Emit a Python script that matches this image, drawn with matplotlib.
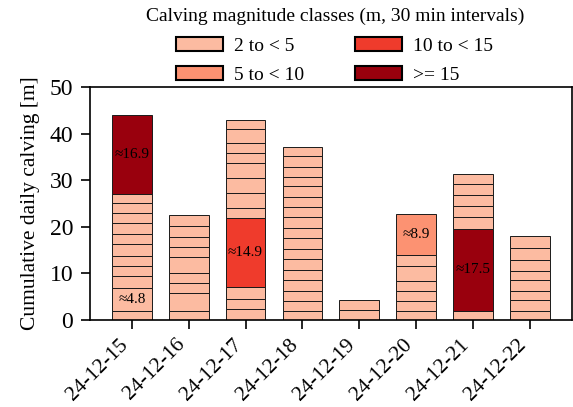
import numpy as np
import matplotlib.pyplot as plt
from matplotlib.patches import Patch

plt.rcParams['font.family'] = ['Liberation Serif', 'DejaVu Serif']

days = ['24-12-15', '24-12-16', '24-12-17', '24-12-18',
        '24-12-19', '24-12-20', '24-12-21', '24-12-22']

# calving events per day (m, per 30 min interval), bottom to top
ev_15 = [2.0, 4.8, 2.7, 2.0, 2.3, 2.4, 2.3, 2.4, 2.1, 2.1, 2.0, 16.9]
ev_16 = [2.0, 3.7, 2.2, 2.2, 3.4, 2.2, 2.0, 2.5, 2.4]
ev_17 = [2.3, 2.2, 2.5, 14.9, 2.2, 3.2, 3.2, 3.2, 2.2, 2.1, 2.9, 2.1]
ev_18 = [2.0, 2.1, 2.0, 2.5, 2.2, 2.2, 2.3, 2.3, 2.2, 2.2, 2.3, 2.2,
         2.2, 2.0, 2.2, 2.2, 2.0]
ev_19 = [2.1, 2.2]
ev_20 = [2.0, 2.0, 2.2, 2.2, 3.2, 2.3, 8.9]
ev_21 = [2.0, 17.5, 2.7, 2.3, 2.4, 2.3, 2.2]
ev_22 = [2.0, 2.2, 2.1, 2.2, 2.0, 2.3, 2.6, 2.6]
events = [ev_15, ev_16, ev_17, ev_18, ev_19, ev_20, ev_21, ev_22]

class_edges = [2, 5, 10, 15]
class_labels = ['2 to < 5', '5 to < 10', '10 to < 15', '>= 15']
class_colors = ['#fcbba1', '#fc9272', '#ef3b2c', '#99000d']


def class_of(v):
    return np.searchsorted(class_edges, v, side='right') - 1


fig = plt.figure(figsize=(5.73, 4.07), dpi=100)
ax = fig.add_axes([0.157, 0.214, 0.841, 0.572])

x = np.arange(len(days))
width = 0.7
for i, ev in enumerate(events):
    bottom = 0.0
    for v in ev:
        c = class_colors[class_of(v)]
        ax.bar(x[i], v, width, bottom=bottom, color=c,
               edgecolor='#1a1a1a', linewidth=0.7)
        if v >= 4.5:
            ax.text(x[i], bottom + v / 2, '≈%.1f' % v, ha='center',
                    va='center', fontsize=11)
        bottom += v

ax.set_ylim(0, 50)
ax.set_yticks([0, 10, 20, 30, 40, 50])
ax.set_xticks(x)
ax.set_xticklabels(days, rotation=45, ha='right')
ax.tick_params(length=6.5, width=1.2, pad=5.5)
ax.tick_params(axis='y', labelsize=17)
ax.tick_params(axis='x', labelsize=15.5, pad=4.5)
for s in ax.spines.values():
    s.set_linewidth(1.2)
ax.set_ylabel('Cumulative daily calving [m]', fontsize=15.5, labelpad=7)

handles = [Patch(facecolor=c, edgecolor='black', linewidth=1.5)
           for c in class_colors]
ax.legend(handles, class_labels, ncol=2, loc='lower center',
          bbox_to_anchor=(0.508, 0.98), frameon=False, fontsize=14,
          title='Calving magnitude classes (m, 30 min intervals)',
          title_fontsize=14, handlelength=2.4, handletextpad=0.6,
          columnspacing=2.6, labelspacing=0.6, borderaxespad=0.0)

fig.savefig('out.png', dpi=100)
